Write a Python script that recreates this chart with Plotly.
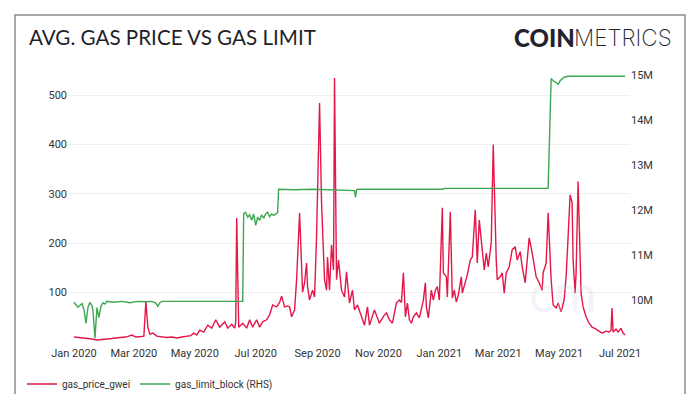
import pandas as pd
import plotly.graph_objects as go

# ---- data ----
base_date = "2020-01-01"

price_days = [0, 6, 12, 18, 23, 30, 38, 46, 52, 58, 62, 67, 70, 72, 74, 76, 79, 83, 88, 93,
              98, 103, 108, 113, 117, 120, 123, 126, 130, 134, 138, 142, 146, 151, 154, 158,
              161, 162, 163, 165, 169, 173, 176, 179, 183, 186, 189, 193, 196, 199, 203, 206,
              208, 211, 214, 216, 218, 221, 223, 226, 229, 231, 233, 234, 236, 239, 241, 243,
              246, 248, 249, 251, 253, 254, 256, 258, 260, 261, 263, 265, 268, 271, 273, 276,
              279, 281, 284, 288, 291, 294, 296, 301, 306, 310, 313, 316, 319, 323, 326, 328,
              330, 332, 334, 336, 338, 340, 343, 346, 350, 352, 353, 355, 358, 360, 362, 364,
              366, 369, 370, 373, 374, 377, 379, 381, 383, 385, 388, 389, 392, 394, 397, 399,
              402, 404, 406, 409, 411, 413, 415, 418, 420, 423, 424, 427, 429, 431, 433, 436,
              439, 442, 444, 447, 449, 452, 454, 456, 459, 461, 463, 466, 469, 470, 473, 475,
              478, 480, 483, 485, 488, 491, 493, 495, 497, 499, 500, 502, 503, 505, 507, 508,
              510, 513, 516, 519, 523, 526, 529, 533, 536, 538, 539, 540, 543, 545, 548, 550,
              552]
gas_price_gwei = [10, 9, 8, 6, 4, 6, 7, 9, 10, 14, 10, 11, 12, 82, 30, 16, 18, 12, 10, 9,
                  10, 8, 10, 11, 13, 18, 14, 24, 20, 34, 28, 45, 30, 41, 28, 36,
                  28, 40, 251, 30, 38, 28, 45, 30, 45, 30, 41, 45, 55, 75, 71, 80,
                  93, 71, 73, 71, 51, 65, 126, 261, 101, 120, 160, 112, 85, 105, 91, 213,
                  484, 282, 227, 126, 105, 172, 105, 197, 146, 535, 126, 166, 105, 91, 142, 79,
                  105, 65, 75, 51, 34, 71, 34, 65, 38, 52, 59, 45, 38, 79, 85, 80,
                  140, 51, 79, 45, 38, 51, 59, 49, 85, 120, 71, 49, 105, 85, 105, 112,
                  85, 272, 140, 132, 91, 264, 89, 105, 81, 95, 132, 99, 120, 136, 166, 172,
                  268, 160, 247, 180, 146, 180, 152, 201, 400, 166, 126, 132, 140, 99, 140, 152,
                  187, 193, 166, 183, 152, 120, 160, 211, 180, 152, 132, 120, 105, 140, 160, 262,
                  126, 75, 69, 79, 61, 85, 132, 213, 298, 282, 166, 99, 140, 325, 166, 99,
                  71, 51, 38, 30, 26, 22, 18, 22, 20, 24, 69, 20, 26, 20, 28, 18,
                  14]

limit_days = [0, 4, 8, 10, 12, 14, 16, 18, 19, 21, 23, 25, 27, 29, 31, 33, 40, 48, 56, 64,
              72, 78, 82, 84, 86, 88, 169, 170, 172, 174, 176, 178, 180, 182, 184, 186, 188,
              190, 192, 194, 196, 198, 200, 202, 204, 205, 220, 240, 260, 275, 281, 282, 283,
              284, 320, 370, 371, 420, 474, 475, 478, 480, 483, 485, 487, 491, 495, 552]
gas_limit_block_m = [9.96, 9.85, 9.93, 9.80, 9.49, 9.85, 9.96, 9.88, 9.78, 9.16, 9.84, 9.62,
                     9.87, 9.95, 9.92, 9.98, 9.96, 9.98, 9.95, 9.98, 9.97, 9.98, 9.94, 9.87,
                     9.95, 9.98, 9.98, 11.93, 11.96, 11.85, 11.90, 11.78, 11.92, 11.67, 11.85,
                     11.78, 11.90, 11.83, 11.92, 11.96, 11.86, 11.92, 11.89, 11.93, 11.95,
                     12.47, 12.46, 12.47, 12.46, 12.45, 12.44, 12.29, 12.45, 12.47, 12.47,
                     12.47, 12.49, 12.49, 12.49, 12.49, 14.93, 14.88, 14.84, 14.80, 14.88,
                     14.96, 14.98, 14.98]

x_tick_vals = ["2020-01-01", "2020-03-01", "2020-05-01", "2020-07-01", "2020-09-01",
               "2020-11-01", "2021-01-01", "2021-03-01", "2021-05-01", "2021-07-01"]
x_tick_text = ["Jan 2020", "Mar 2020", "May 2020", "Jul 2020", "Sep 2020",
               "Nov 2020", "Jan 2021", "Mar 2021", "May 2021", "Jul 2021"]
left_ticks = [100, 200, 300, 400, 500]
right_ticks = [10, 11, 12, 13, 14, 15]
right_tick_text = ["10M", "11M", "12M", "13M", "14M", "15M"]

# ---- figure ----
b = pd.Timestamp(base_date)
price_dates = b + pd.to_timedelta(price_days, unit="D")
limit_dates = b + pd.to_timedelta(limit_days, unit="D")

RED = "#e3174a"
GREEN = "#3fa652"
FONT = "Roboto"
W, H = 700, 394


def fx(x):
    return x / W


def fy(y):
    return (H - y) / H


fig = go.Figure()
fig.add_trace(go.Scatter(x=price_dates, y=gas_price_gwei, name="gas_price_gwei",
                         mode="lines", line=dict(color=RED, width=1.4)))
fig.add_trace(go.Scatter(x=limit_dates, y=gas_limit_block_m, name="gas_limit_block (RHS)",
                         mode="lines", line=dict(color=GREEN, width=1.4), yaxis="y2"))

fig.update_layout(
    width=W, height=H,
    margin=dict(l=0, r=0, t=0, b=0, autoexpand=False),
    paper_bgcolor="white", plot_bgcolor="white",
    font=dict(family=FONT, size=11, color="#333333"),
    showlegend=True,
    legend=dict(orientation="h", x=fx(22), y=fy(384), xanchor="left", yanchor="middle",
                font=dict(family=FONT, size=10, color="#333333"),
                bgcolor="rgba(0,0,0,0)", itemwidth=30, tracegroupgap=0),
    xaxis=dict(type="date", domain=[fx(68), fx(630)], range=["2019-12-26", "2021-07-11"],
               tickvals=x_tick_vals, ticktext=x_tick_text, automargin=False,
               showgrid=False, zeroline=False, showline=False, ticks="",
               tickfont=dict(family=FONT, size=11, color="#333333")),
    yaxis=dict(domain=[fy(345), fy(70)], range=[-6.1, 551], tickvals=left_ticks,
               showgrid=True, automargin=False,
               gridcolor="#efefef", gridwidth=1, zeroline=False, showline=False,
               ticks="", tickfont=dict(family=FONT, size=11, color="#333333")),
    yaxis2=dict(range=[9.01, 15.12], overlaying="y", side="right", automargin=False,
                tickvals=right_ticks, ticktext=right_tick_text, showgrid=False,
                zeroline=False, showline=False, ticks="",
                tickfont=dict(family=FONT, size=11, color="#333333")),
)

# frame
fig.add_shape(type="rect", xref="paper", yref="paper",
              x0=fx(15), x1=fx(685), y0=fy(430), y1=fy(15),
              line=dict(color="#8c8c8c", width=1.5), fillcolor="rgba(0,0,0,0)", layer="below")

# title
fig.add_annotation(xref="paper", yref="paper", x=fx(27), y=fy(37), xanchor="left",
                   yanchor="middle", showarrow=False, text="AVG. GAS PRICE VS GAS LIMIT",
                   font=dict(family="Lato", size=20.6, color="#1f1f2b"))
# logo
fig.add_annotation(xref="paper", yref="paper", x=fx(577), y=fy(38), xanchor="right",
                   yanchor="middle", showarrow=False, text="COIN",
                   font=dict(family="Lato", size=24, color="#23232f", weight=900))
fig.add_annotation(xref="paper", yref="paper", x=fx(572), y=fy(38), xanchor="left",
                   yanchor="middle", showarrow=False, text="METRICS",
                   font=dict(family="Inter", size=22.5, color="#23232f", weight=200))
# faint watermark
fig.add_annotation(xref="paper", yref="paper", x=fx(563), y=fy(292), xanchor="center",
                   yanchor="middle", showarrow=False, text="cm",
                   font=dict(family="Lato", size=52, color="rgba(200,214,230,0.25)"))

fig.write_html("out.html", config={"displayModeBar": False},
               post_script="document.body.style.margin='0';document.body.style.padding='0';")
